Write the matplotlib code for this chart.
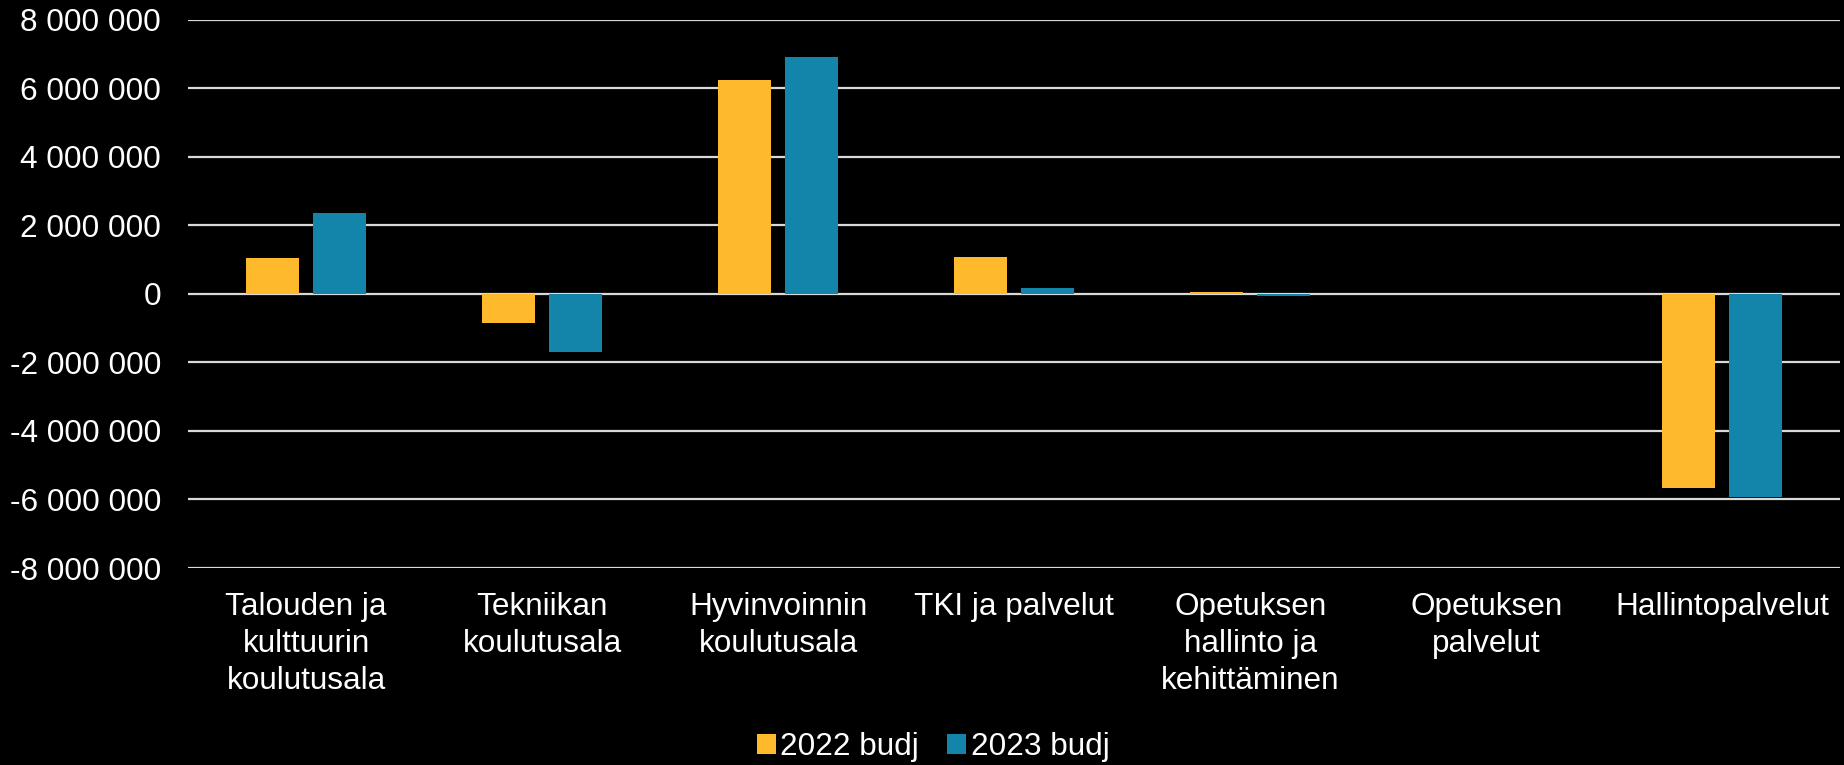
import matplotlib
matplotlib.use("Agg")
import matplotlib.pyplot as plt
import numpy as np

categories = ["Talouden ja\nkulttuurin\nkoulutusala", "Tekniikan\nkoulutusala",
              "Hyvinvoinnin\nkoulutusala", "TKI ja palvelut",
              "Opetuksen\nhallinto ja\nkehittäminen", "Opetuksen\npalvelut",
              "Hallintopalvelut"]
series_names = ["2022 budj", "2023 budj"]
values_2022 = [1050000, -860000, 6250000, 1080000, 50000, 0, -5650000]
values_2023 = [2350000, -1690000, 6930000, 180000, -70000, 0, -5920000]
colors = ["#FFB92C", "#1384AA"]
yticks = [-8000000, -6000000, -4000000, -2000000, 0, 2000000, 4000000, 6000000, 8000000]

plt.rcParams['font.family'] = ['Liberation Sans', 'DejaVu Sans']
fs = 22.7
fig = plt.figure(figsize=(18.44, 7.65), dpi=100, facecolor="black")
ax = fig.add_axes([0.102, 0.2575, 0.896, 0.7165], facecolor="black")

x = np.arange(len(categories))
w = 0.225
off = 0.1425
ax.bar(x - off, values_2022, width=w, color=colors[0], label=series_names[0], zorder=3)
ax.bar(x + off, values_2023, width=w, color=colors[1], label=series_names[1], zorder=3)

ax.set_xlim(-0.5, len(categories) - 0.5)
ax.set_ylim(-8000000, 8000000)
ax.set_yticks(yticks)
ax.set_yticklabels([f"{v:,}".replace(",", " ") for v in yticks])
ax.yaxis.grid(True, color="#D9D9D9", linewidth=1.6, zorder=1)
ax.set_axisbelow(True)
for s in ax.spines.values():
    s.set_visible(False)
ax.tick_params(axis="y", length=0, pad=19.5, labelsize=fs, labelcolor="white")
ax.set_xticks(x)
ax.set_xticklabels(categories, fontsize=fs, color="white", linespacing=1.32)
ax.tick_params(axis="x", length=0, pad=17)

leg = ax.legend(loc="lower center", bbox_to_anchor=(0.451, -0.405), ncol=2, frameon=False,
                fontsize=fs, handlelength=0.6, handleheight=0.6, handletextpad=0.15,
                columnspacing=0.9)
for t in leg.get_texts():
    t.set_color("white")

fig.savefig("out.png", dpi=100, facecolor="black")
